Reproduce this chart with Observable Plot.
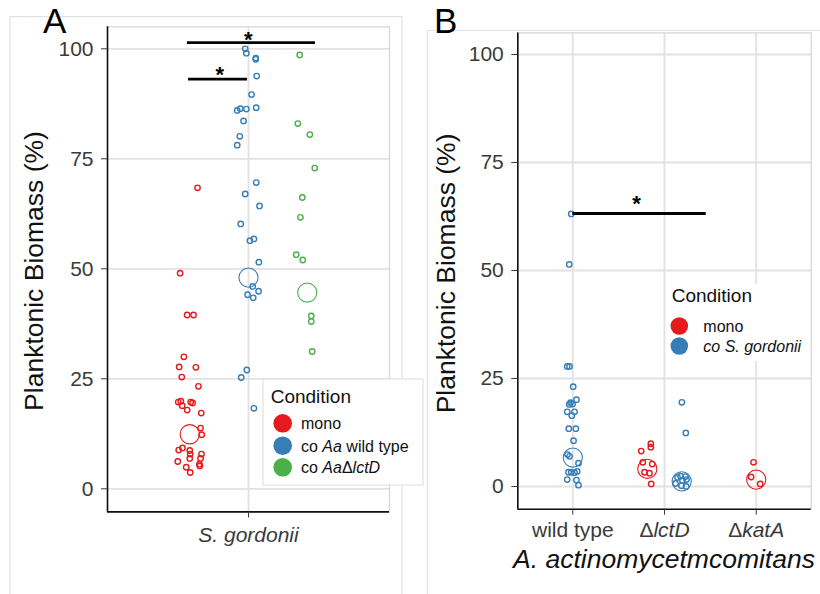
<!DOCTYPE html>
<html>
<head>
<meta charset="utf-8">
<script src="https://cdn.jsdelivr.net/npm/d3@7"></script>
<script src="https://cdn.jsdelivr.net/npm/@observablehq/plot@0.6"></script>
<style>
  body { margin: 0; background: #fff; }
  #wrap { position: relative; width: 820px; height: 594px; overflow: hidden; background: #fff;
          font-family: 'Liberation Sans', Arial, sans-serif; }
  #wrap > * { position: absolute; top: 0; }
  #bg, #ov { left: 0; pointer-events: none; }
  #pa { left: 0; }
  #pb { left: 420px; }
</style>
</head>
<body>
<div id="wrap">
  <svg id="bg" width="820" height="594"></svg>
  <div id="pa"></div>
  <div id="pb"></div>
  <svg id="ov" width="820" height="594"></svg>
</div>
<script>
// ---------- data ----------
const yTicks = [0, 25, 50, 75, 100];
const xLabelsA = ["S. gordonii"];
const xLabelsB = ["wild type", "\u0394lctD", "\u0394katA"];

const groupsA = ["mono", "co Aa wild type", "co Aa\u0394lctD"];
const colorsA = ["#E41A1C", "#377EB8", "#4DAF4A"];
const groupsB = ["mono", "co S. gordonii"];
const colorsB = ["#E41A1C", "#377EB8"];

// Panel A (single category at x = 1, dodged/jittered positions)
const monoA_x = [0.783,0.709,0.739,0.766,0.725,0.705,0.776,0.716,0.787,0.701,0.712,0.718,0.754,0.762,0.739,0.799,0.796,0.801,0.703,0.719,0.750,0.752,0.750,0.800,0.796,0.699,0.735,0.752,0.791,0.793];
const monoA_y = [68.4,49.0,39.5,39.5,30.0,27.7,27.6,25.4,23.3,19.7,19.9,18.9,19.7,19.5,17.9,17.2,13.8,12.3,8.8,9.3,8.7,7.9,6.9,7.9,6.9,6.2,4.9,3.7,5.6,5.2];
const wtA_x = [0.986,0.991,1.031,1.031,1.035,1.013,0.952,0.965,0.991,1.033,0.979,0.963,0.952,1.033,0.986,1.047,0.967,1.006,1.023,1.044,1.018,1.043,0.996,1.020,0.993,0.969,1.023];
const wtA_y = [100,99.0,97.9,97.6,93.8,89.6,86.0,86.4,86.3,86.6,83.6,80.1,78.1,69.6,67.0,64.3,60.2,56.4,56.8,51.5,46.0,44.9,44.1,43.4,27.0,25.3,18.3];
const lctA_x = [1.218,1.210,1.261,1.282,1.229,1.221,1.203,1.231,1.267,1.267,1.271];
const lctA_y = [98.6,83.0,80.5,72.9,66.2,61.7,53.2,52.0,39.3,38.0,31.2];
const meanA_x = [0.75, 1.0, 1.25];
const meanA_y = [12.4, 48.0, 44.6];

const sigA_x1 = [0.74, 0.745];
const sigA_x2 = [1.285, 0.996];
const sigA_y = [101.4, 93.1];
const starA_x = [0.999, 0.878];
const starA_y = [103.2, 95.2];

// Panel B (categories 1,2,3)
const wtB_co_x = [0.983,0.961,0.939,0.964,1.004,1.040,0.975,0.997,0.961,0.939,1.019,0.989,0.956,1.033,1.008,0.942,0.964,1.062,0.953,0.983,1.019,1.048,0.939,1.040,1.062];
const wtB_co_y = [63.1,51.4,27.8,27.8,23.1,20.1,19.4,19.1,19.0,17.3,17.3,16.4,13.4,13.4,10.6,7.4,7.0,5.4,3.3,3.3,3.2,3.5,1.6,1.5,0.3];
const lctB_mono_x = [1.851,1.851,1.746,1.763,1.866,1.782,1.836,1.855];
const lctB_mono_y = [9.9,9.1,8.2,5.6,5.2,3.3,3.1,0.6];
const lctB_co_x = [2.189,2.232,2.175,2.229,2.142,2.240,2.120,2.185,2.237,2.196];
const lctB_co_y = [19.5,12.4,2.4,2.3,2.1,1.6,0.7,0.2,0.0,1.4];
const katB_mono_x = [2.971,2.945,3.044];
const katB_mono_y = [5.6,2.2,0.6];
const meanB_mono_x = [1.8125, 3.0];
const meanB_mono_y = [4.1, 1.6];
const meanB_co_x = [1.0, 2.1875];
const meanB_co_y = [6.7, 1.2];

const sigB_x1 = [1.0];
const sigB_x2 = [2.455];
const sigB_y = [63.2];
const starB_x = [1.695];
const starB_y = [66.7];

// ---------- helpers ----------
const rows = (xs, ys, group) => xs.map((x, i) => ({x, y: ys[i], group}));
const FONT = "'Liberation Sans', Arial, sans-serif";
const GRID = "#e2e2e2";
const YDOM = [-5.25, 105];

const pointsA = [
  ...rows(monoA_x, monoA_y, groupsA[0]),
  ...rows(wtA_x, wtA_y, groupsA[1]),
  ...rows(lctA_x, lctA_y, groupsA[2])
];
const meansA = meanA_x.map((x, i) => ({x, y: meanA_y[i], group: groupsA[i]}));
const sigA = sigA_x1.map((x1, i) => ({x1, x2: sigA_x2[i], y: sigA_y[i]}));
const starsA = starA_x.map((x, i) => ({x, y: starA_y[i]}));

const pointsB = [
  ...rows(wtB_co_x, wtB_co_y, groupsB[1]),
  ...rows(lctB_mono_x, lctB_mono_y, groupsB[0]),
  ...rows(lctB_co_x, lctB_co_y, groupsB[1]),
  ...rows(katB_mono_x, katB_mono_y, groupsB[0])
];
const meansB = [
  ...rows(meanB_mono_x, meanB_mono_y, groupsB[0]),
  ...rows(meanB_co_x, meanB_co_y, groupsB[1])
];
const sigB = sigB_x1.map((x1, i) => ({x1, x2: sigB_x2[i], y: sigB_y[i]}));
const starsB = starB_x.map((x, i) => ({x, y: starB_y[i]}));

function panel({width, marginLeft, marginRight, marginTop, marginBottom, xDomain, xTicks, xFormat,
                xItalic, tickPad, groups, colors, points, means, sig, stars}) {
  return Plot.plot({
    width, height: 594, marginLeft, marginRight, marginTop, marginBottom,
    style: {fontFamily: FONT, background: "transparent", overflow: "visible"},
    x: {domain: xDomain},
    y: {domain: YDOM},
    color: {domain: groups, range: colors},
    marks: [
      Plot.gridY(yTicks, {stroke: GRID, strokeOpacity: 1, strokeWidth: 1.8}),
      Plot.gridX(xTicks, {stroke: GRID, strokeOpacity: 1, strokeWidth: 1.8}),
      Plot.frame({stroke: "#dadada", strokeWidth: 1.4}),
      Plot.dot(points, {x: "x", y: "y", stroke: "group", r: 2.7, strokeWidth: 1.4, fill: "none"}),
      Plot.dot(means, {x: "x", y: "y", stroke: "group", r: 9.6, strokeWidth: 1.1, fill: "none"}),
      Plot.ruleX([xDomain[0]], {stroke: "#111", strokeWidth: 1.6}),
      Plot.ruleY([YDOM[0]], {stroke: "#111", strokeWidth: 1.6}),
      Plot.axisY(yTicks, {label: null, tickSize: 6, tickPadding: 8, fontSize: 21, color: "#3a3a3a"}),
      Plot.axisX(xTicks, {label: null, tickSize: 6, tickPadding: tickPad, fontSize: 21, color: "#3a3a3a",
                          fontStyle: xItalic ? "italic" : "normal", tickFormat: xFormat}),
      Plot.ruleY(sig, {y: "y", x1: "x1", x2: "x2", stroke: "#000", strokeWidth: 2.8}),
      Plot.text(stars, {x: "x", y: "y", text: () => "*", fontSize: 22, fontWeight: "bold", dy: 5.5, fill: "#000"})
    ]
  });
}

const plotA = panel({
  width: 410, marginLeft: 107, marginRight: 21, marginTop: 26.3, marginBottom: 82.6,
  xDomain: [0.4, 1.6], xTicks: [1], xFormat: d => xLabelsA[d - 1], xItalic: true, tickPad: 9,
  groups: groupsA, colors: colorsA, points: pointsA, means: meansA, sig: sigA, stars: starsA
});
document.getElementById("pa").appendChild(plotA);

const plotB = panel({
  width: 400, marginLeft: 97.3, marginRight: 9.3, marginTop: 32.4, marginBottom: 85.3,
  xDomain: [0.4, 3.6], xTicks: [1, 2, 3], xFormat: d => xLabelsB[d - 1], xItalic: false, tickPad: 7,
  groups: groupsB, colors: colorsB, points: pointsB, means: meansB, sig: sigB, stars: starsB
});
document.getElementById("pb").appendChild(plotB);

// italicise gene names after the leading Δ in panel B tick labels
plotB.querySelectorAll('g[aria-label="x-axis tick label"] text').forEach(t => {
  const s = t.textContent;
  if (s.startsWith("\u0394")) {
    t.textContent = "";
    const ns = "http://www.w3.org/2000/svg";
    const a = document.createElementNS(ns, "tspan"); a.textContent = "\u0394";
    const b = document.createElementNS(ns, "tspan"); b.textContent = s.slice(1);
    b.setAttribute("font-style", "italic");
    t.appendChild(a); t.appendChild(b);
  }
});

// ---------- background figure boxes ----------
const bg = d3.select("#bg");
bg.append("path").attr("d", "M10,594V16.7H402V594").attr("fill", "none").attr("stroke", "#e3e3e3").attr("stroke-width", 1.2);
bg.append("path").attr("d", "M427.5,594V30.5H820").attr("fill", "none").attr("stroke", "#e3e3e3").attr("stroke-width", 1.2);

// ---------- overlay: letters, titles, legends ----------
const ov = d3.select("#ov").attr("font-family", FONT);
ov.append("text").attr("x", 43).attr("y", 33).attr("font-size", 35).text("A");
ov.append("text").attr("x", 434).attr("y", 33).attr("font-size", 35).text("B");

const yTitle = "Planktonic Biomass (%)";
ov.append("text").attr("transform", "translate(42.5,271) rotate(-90)").attr("text-anchor", "middle")
  .attr("font-size", 26.5).attr("fill", "#111").text(yTitle);
ov.append("text").attr("transform", "translate(455,273.4) rotate(-90)").attr("text-anchor", "middle")
  .attr("font-size", 26.5).attr("fill", "#111").text(yTitle);
ov.append("text").attr("x", 664).attr("y", 568).attr("text-anchor", "middle").attr("font-size", 26.5)
  .attr("font-style", "italic").attr("fill", "#111").text("A. actinomycetmcomitans");

function legend(g, {box, title, tx, ty, cx, cy, r, lx, items, colors}) {
  if (box) g.append("rect").attr("x", box[0]).attr("y", box[1]).attr("width", box[2]).attr("height", box[3])
    .attr("fill", "#fff").attr("stroke", box[4] || "none").attr("stroke-width", 1);
  g.append("text").attr("x", tx).attr("y", ty).attr("font-size", 19).attr("fill", "#111").text(title);
  items.forEach((parts, i) => {
    g.append("circle").attr("cx", cx).attr("cy", cy[i]).attr("r", r).attr("fill", colors[i]);
    const t = g.append("text").attr("x", lx).attr("y", cy[i] + 6).attr("font-size", 16).attr("fill", "#111");
    parts.forEach(([s, it]) => t.append("tspan").attr("font-style", it ? "italic" : "normal").text(s));
  });
}

legend(ov, {
  box: [263, 379, 160, 106, "#dcdcdc"], title: "Condition", tx: 270.7, ty: 402.7,
  cx: 282.7, cy: [423.3, 445.7, 467.3], r: 9.3, lx: 301, colors: colorsA,
  items: [[["mono", false]], [["co ", false], ["Aa", true], [" wild type", false]],
          [["co ", false], ["Aa", true], ["\u0394", false], ["lctD", true]]]
});
legend(ov, {
  box: [668, 284, 138, 77], title: "Condition", tx: 671.7, ty: 301.7,
  cx: 679.3, cy: [326, 346], r: 8.8, lx: 703.3, colors: colorsB,
  items: [[["mono", false]], [["co S. gordonii", true]]]
});
</script>
</body>
</html>
